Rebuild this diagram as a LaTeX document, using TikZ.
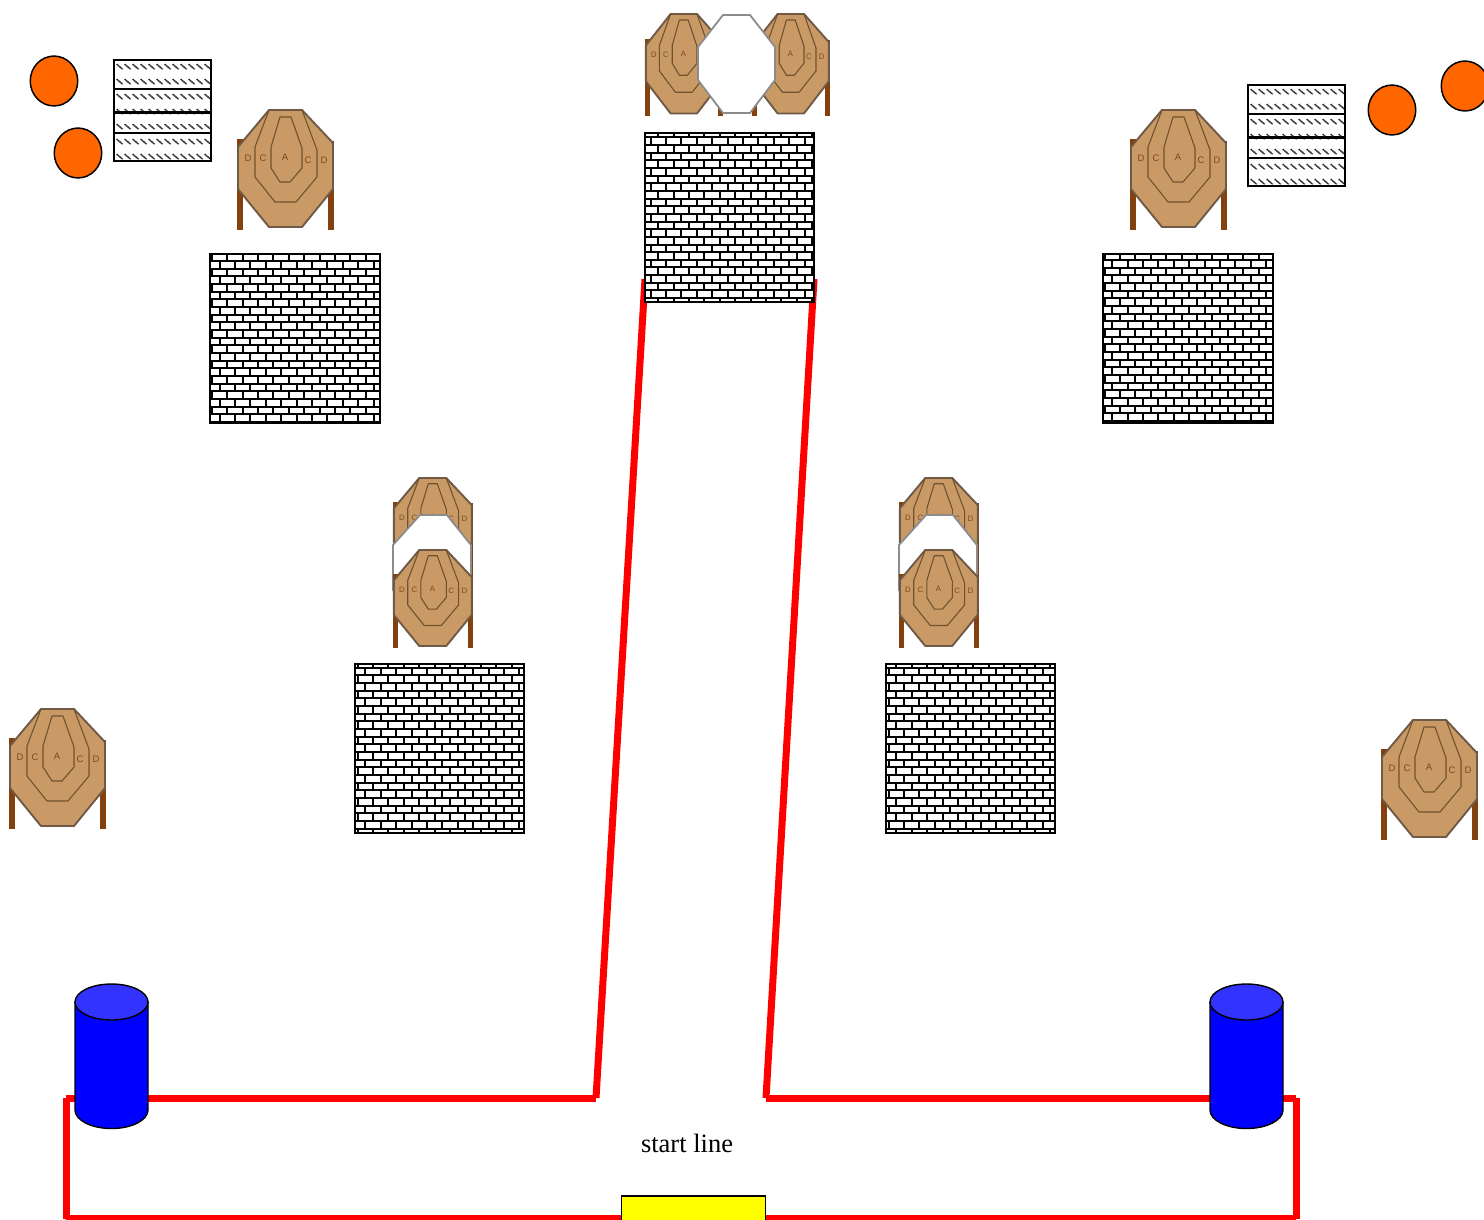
\documentclass[tikz,border=0pt]{standalone}
\usepackage{fontspec}
\setmainfont{Liberation Serif}
\newfontfamily\targetfont{Liberation Sans}
\definecolor{tan1}{HTML}{C99A66}
\definecolor{tanline}{HTML}{6E5A46}
\definecolor{ringline}{HTML}{70522F}
\definecolor{labelc}{HTML}{7D4A17}
\definecolor{legc}{HTML}{84400E}
\definecolor{orangec}{HTML}{FF6600}
\definecolor{blue1}{HTML}{0000FF}
\definecolor{blue2}{HTML}{3333FF}
\definecolor{redc}{HTML}{FF0000}
\definecolor{yellowc}{HTML}{FFFF00}
\tikzset{
  tlabel/.style={text=labelc,font=\targetfont\fontsize{9.5}{10}\selectfont,inner sep=0pt,transform shape},
  tleg/.style={fill=legc,draw=none},
  toct/.style={fill=tan1,draw=tanline,line width=1.9pt,line join=round},
  tring/.style={draw=ringline,line width=1.1pt,line join=round},
  blank/.style={fill=white,draw=black!45,line width=1.8pt,line join=round},
  wallframe/.style={draw=black,line width=2pt},
  brick/.style={fill=black},
  boxframe/.style={draw=black,line width=2.2pt},
  hatchmark/.style={draw=black!85,line width=1.5pt,dash pattern=on 1.4pt off .5pt},
  ball/.style={circle,draw=black,fill=orangec,line width=1.5pt,minimum size=47.5pt,inner sep=0pt,yscale=1.05},
  barrier/.style={draw=redc,line width=7pt},
  startbox/.style={draw=black,fill=yellowc,line width=1.5pt},
  cylline/.style={draw=black,line width=1.4pt},
  target/.pic={
    \fill[tleg] (0,29) rectangle (6,120);
    \fill[tleg] (91,31) rectangle (97,120);
    \path[toct] (32,0)--(65,0)--(96,33)--(96,79)--(65,117)--(32,117)--(1,79)--(1,37)--cycle;
    \path[tring] (32,0)--(18,37)--(18,67)--(38,92)--(59,92)--(80,67)--(80,40)--(65,0);
    \path[tring] (43,7)--(54,7)--(65,38)--(65,58)--(53,72)--(43,72)--(34,58)--(34,37)--cycle;
    \node[tlabel] (-d1) at (11,48) {D};
    \node[tlabel] (-c1) at (26,48) {C};
    \node[tlabel] (-a) at (48,47) {A};
    \node[tlabel] (-c2) at (71,50) {C};
    \node[tlabel] (-d2) at (87,50) {D};
  }
}
\newcommand{\brickwall}[5]{%
  \begin{scope}[shift={(#1,#2)}]
    \fill[white] (0,0) rectangle (#5,169);
    \begin{scope}
      \clip (0,0) rectangle (#5,169);
      \foreach \k in {0,...,22}{
        \pgfmathsetmacro{\yy}{round(#4+7.66*\k)}
        \pgfmathsetmacro{\yn}{round(#4+7.66*(\k+1))}
        \pgfmathsetmacro{\pp}{#3+7.7*mod(\k,2)}
        \fill[brick] (0,\yy-1) rectangle (171,\yy+1);
        \foreach \j in {-1,...,11}{
          \pgfmathsetmacro{\xx}{round(\pp+15.4*\j)}
          \fill[brick] (\xx-1,\yy) rectangle (\xx+1,\yn);
        }
      }
    \end{scope}
    \draw[wallframe] (0,0) rectangle (#5,169);
  \end{scope}}
\newcommand{\hatchbox}[2]{%
  \begin{scope}[shift={(#1,#2)}]
    \begin{scope}
      \clip (0,0) rectangle (97,101);
      \foreach \r in {0,...,6}{
        \pgfmathsetmacro{\yy}{6.7+15*\r}
        \foreach \c in {0,...,11}{
          \pgfmathsetmacro{\xx}{2.7+8*\c}
          \draw[hatchmark] (\xx,\yy-2.5) -- (\xx+6,\yy+2.5);
        }
      }
    \end{scope}
    \draw[boxframe] (0,0) rectangle (97,101);
    \draw[boxframe] (0,29) -- (97,29);
    \draw[boxframe] (0,52.5) -- (97,52.5);
    \draw[boxframe] (0,73) -- (97,73);
  \end{scope}}
\newcommand{\barrel}[1]{%
  \begin{scope}[shift={(#1,1002)}]
    \path[cylline,fill=blue1] (-36.5,0) -- (-36.5,108) arc[start angle=180,end angle=0,x radius=36.5,y radius=18.5] -- (36.5,0) -- cycle;
    \path[cylline,fill=blue2] (0,0) ellipse[x radius=36.5,y radius=18];
  \end{scope}}
\begin{document}
\begin{tikzpicture}[x=1pt,y=-1pt]
\useasboundingbox (0,0) rectangle (1484,1219);
\clip (0,0) rectangle (1484,1219);
% corners of the taped box
\coordinate (lcorner) at (66,1098);
\coordinate (lfoot) at (66,1218.5);
\coordinate (linner) at (596,1098);
\coordinate (ltop) at (645,279);
\coordinate (rinner) at (766,1098);
\coordinate (rtop) at (814,279);
\coordinate (rcorner) at (1296,1098);
\coordinate (rfoot) at (1296,1218.5);
% red lines
\draw[barrier] (lcorner) -- (linner);
\draw[barrier] (lcorner) -- (lfoot);
\draw[barrier] (linner) -- (ltop);
\draw[barrier] (rinner) -- (rtop);
\draw[barrier] (rinner) -- (rcorner);
\draw[barrier] (rcorner) -- (rfoot);
\draw[barrier] (lfoot) -- (rfoot);
% brick walls
\brickwall{210}{254}{1.9}{-0.7}{170}
\brickwall{645}{133}{13.3}{-3.4}{169}
\brickwall{1103}{254}{1.6}{-1.7}{170}
\brickwall{355}{664}{2.7}{-4}{169}
\brickwall{886}{664}{10.4}{-4}{169}
% hatched boxes
\hatchbox{114}{60}
\hatchbox{1248}{85}
% balls
\node[ball] (b1) at (54,81) {};
\node[ball] (b2) at (78,153) {};
\node[ball] (b3) at (1392,110) {};
\node[ball] (b4) at (1465,86) {};
% single targets
\pic (t1) at (237,110) {target};
\pic (t2) at (1130,110) {target};
\pic (t3) at (9,709) {target};
\pic (t4) at (1381,720) {target};
% centre group
\pic[xscale=.8,yscale=.85] (t5) at (645,14) {target};
\pic[xscale=.8,yscale=.85] (t6) at (752,14) {target};
\path[blank] (723,15)--(750,15)--(775,47)--(775,80)--(750,113)--(723,113)--(698,80)--(698,47)--cycle;
% stacked left
\pic[xscale=.82,yscale=.82] (t7) at (393,478) {target};
\path[blank] (420,515)--(447,515)--(471,545)--(471,590)--(447,630)--(420,630)--(393,590)--(393,545)--cycle;
\pic[xscale=.82,yscale=.82] (t8) at (393,550) {target};
% stacked right
\pic[xscale=.82,yscale=.82] (t9) at (899,478) {target};
\path[blank] (926,515)--(953,515)--(977,545)--(977,590)--(953,630)--(926,630)--(899,590)--(899,545)--cycle;
\pic[xscale=.82,yscale=.82] (t10) at (899,550) {target};
% barrels
\barrel{111.5}
\barrel{1246.5}
% start
\node[startbox,minimum width=144pt,minimum height=26pt,inner sep=0pt,anchor=north west] (start) at (620.7,1195) {};
\node[inner sep=0pt,font=\fontsize{26.5}{28}\selectfont] (startlabel) at (687,1143) {start line};
\end{tikzpicture}
\end{document}
